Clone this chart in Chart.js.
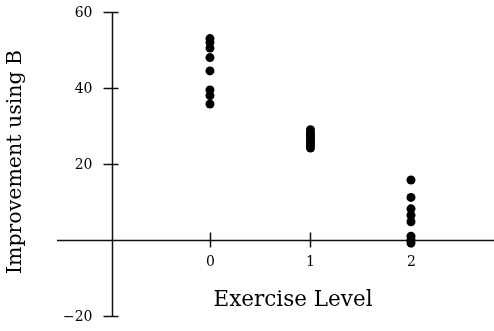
<!DOCTYPE html>
<html>
<head>
<meta charset="utf-8">
<script src="https://cdn.jsdelivr.net/npm/chart.js@4/dist/chart.umd.min.js"></script>
<style>
html,body{margin:0;padding:0;background:#fff;}
#wrap{width:494px;height:331px;position:relative;}
</style>
</head>
<body>
<div id="wrap"><canvas id="c" width="494" height="331"></canvas></div>
<script>
const exerciseLevels = [0, 1, 2];
const level0 = [53, 52, 50.5, 48, 44.5, 39.5, 38, 35.8];
const level1 = [29, 28.2, 27.5, 27, 26.2, 25.5, 25, 24.2];
const level2 = [15.8, 11.2, 8.2, 6.5, 4.8, 1, 0, -0.8];
const xTicks = [0, 1, 2];
const yTicks = [-20, 0, 20, 40, 60];
const yTickLabels = ['\u221220', '', '20', '40', '60'];
const xTitle = 'Exercise Level';
const yTitle = 'Improvement using B';
const yAxisAt = -0.97;

const groups = [level0, level1, level2];
const points = [];
groups.forEach((vals, i) => vals.forEach(v => points.push({x: exerciseLevels[i], y: v})));

const INK = '#111';
const axisDecor = {
  id: 'axisDecor',
  beforeDatasetsDraw(chart) {
    const ctx = chart.ctx, xs = chart.scales.x, ys = chart.scales.y, a = chart.chartArea;
    const x0 = Math.round(xs.getPixelForValue(yAxisAt)) + 0.5;
    const y0 = Math.round(ys.getPixelForValue(0)) + 0.5;
    ctx.save();
    ctx.strokeStyle = INK; ctx.lineWidth = 1.5;
    ctx.beginPath(); ctx.moveTo(a.left, y0); ctx.lineTo(a.right, y0); ctx.stroke();
    ctx.beginPath(); ctx.moveTo(x0, a.top); ctx.lineTo(x0, a.bottom); ctx.stroke();
    ctx.fillStyle = '#000';
    ctx.font = '14px "DejaVu Serif"';
    ctx.textAlign = 'center'; ctx.textBaseline = 'middle';
    xTicks.forEach(t => {
      const px = Math.round(xs.getPixelForValue(t)) + 0.5;
      ctx.beginPath(); ctx.moveTo(px, y0 - 8); ctx.lineTo(px, y0 + 7); ctx.stroke();
      ctx.fillText(String(t), px, y0 + 22);
    });
    ctx.textAlign = 'right';
    yTicks.forEach((t, i) => {
      if (t === 0) return;
      const py = Math.round(ys.getPixelForValue(t)) + 0.5;
      ctx.beginPath(); ctx.moveTo(x0 - 9, py); ctx.lineTo(x0 + 6, py); ctx.stroke();
      ctx.fillText(yTickLabels[i], x0 - 20, py + 1);
    });
    ctx.textAlign = 'center';
    ctx.font = '21.5px "DejaVu Serif"';
    ctx.fillText(xTitle, 293, 300);
    ctx.translate(16, 162); ctx.rotate(-Math.PI / 2);
    ctx.font = '20.5px "DejaVu Serif"';
    ctx.fillText(yTitle, 0, 0);
    ctx.restore();
  }
};

new Chart(document.getElementById('c'), {
  type: 'scatter',
  data: { datasets: [{ data: points, backgroundColor: '#000', borderWidth: 0, pointRadius: 4.5, pointHoverRadius: 4.5 }] },
  options: {
    responsive: false, animation: false,
    layout: { autoPadding: false, padding: { left: 57, right: 0, top: 12, bottom: 15 } },
    plugins: { legend: { display: false }, tooltip: { enabled: false } },
    scales: {
      x: {
        type: 'linear', min: -1.522, max: 2.826, display: false,
        afterBuildTicks: s => { s.ticks = xTicks.map(v => ({ value: v })); }
      },
      y: {
        type: 'linear', min: -20, max: 60, display: false,
        afterBuildTicks: s => { s.ticks = yTicks.map(v => ({ value: v })); }
      }
    }
  },
  plugins: [axisDecor]
});
</script>
</body>
</html>
